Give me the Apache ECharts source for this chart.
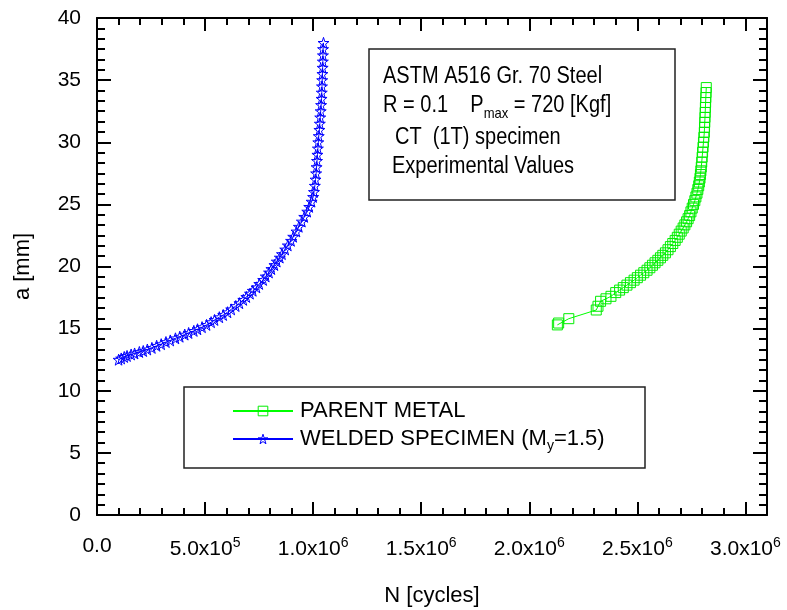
<!DOCTYPE html>
<html>
<head>
<meta charset="utf-8">
<script src="https://cdn.jsdelivr.net/npm/echarts@6/dist/echarts.min.js"></script>
<style>html,body{margin:0;padding:0;background:#fff}#c{width:787px;height:610px}</style>
</head>
<body>
<div id="c"></div>
<script>
// ---- data ----
const parentN = [2130000,2136000,2183000,2310000,2318000,2330000,2355000,2378000,2400000,2418000,2435000,2452000,2468000,2485000,2500000,2515000,2530000,2545000,2558000,2570000,2582000,2595000,2607000,2618000,2630000,2642000,2653000,2664000,2675000,2685000,2694000,2703000,2712000,2720000,2728000,2735000,2742000,2748000,2754000,2760000,2766000,2771000,2776000,2780000,2784000,2787000,2790000,2792000,2794000,2796000,2798000,2800000,2802000,2804000,2806000,2808000,2810000,2811000,2812000,2813000,2814000,2815000,2816000,2817000,2818000,2819000];
const parentA = [15.3,15.45,15.8,16.5,16.8,17.2,17.4,17.6,17.9,18.1,18.3,18.5,18.7,18.9,19.1,19.3,19.5,19.7,19.9,20.1,20.3,20.5,20.7,20.9,21.1,21.35,21.6,21.85,22.1,22.35,22.6,22.85,23.1,23.35,23.6,23.85,24.1,24.4,24.7,25.0,25.3,25.6,25.9,26.2,26.5,26.8,27.1,27.4,27.7,28.0,28.4,28.8,29.2,29.6,30.0,30.4,30.8,31.2,31.6,32.0,32.4,32.8,33.2,33.6,34.0,34.4];

const weldN = [100000,112000,126000,139000,158000,174000,196000,214000,233000,254000,276000,297000,319000,339000,363000,383000,406000,424000,448000,465000,486000,507000,528000,544000,566000,584000,604000,621000,642000,659000,677000,691000,708000,721000,738000,751000,769000,781000,796000,807000,821000,832000,846000,856000,871000,883000,898000,908000,923000,934000,948000,959000,973000,982000,993000,1000000,1004000,1008000,1011000,1014000,1016000,1018000,1020000,1022000,1024000,1026000,1029000,1031000,1033000,1035000,1037000,1039000,1040000,1041000,1042000,1043000,1044000,1045000,1045500,1046000,1048000];
const weldA = [12.5,12.6,12.72,12.8,12.92,13.0,13.12,13.2,13.32,13.45,13.62,13.75,13.92,14.05,14.22,14.35,14.52,14.65,14.82,14.95,15.12,15.3,15.52,15.7,15.92,16.1,16.32,16.55,16.82,17.05,17.32,17.55,17.82,18.05,18.32,18.6,18.92,19.2,19.52,19.8,20.12,20.4,20.72,21.0,21.37,21.7,22.07,22.4,22.82,23.2,23.62,24.0,24.42,24.8,25.22,25.6,26.0,26.5,27.0,27.5,28.0,28.5,29.0,29.5,30.0,30.5,31.0,31.5,32.0,32.5,33.0,33.5,34.0,34.5,35.0,35.5,36.0,36.5,37.0,37.5,38.0];

const seriesNames = ['PARENT METAL', 'WELDED SPECIMEN (My=1.5)'];
const legendLabels = ['PARENT METAL', 'WELDED SPECIMEN (M{sub|y}=1.5)'];
const xTicks = [0, 500000, 1000000, 1500000, 2000000, 2500000, 3000000];
const xTickLabels = ['0.0', '5.0x10{sup|5}', '1.0x10{sup|6}', '1.5x10{sup|6}', '2.0x10{sup|6}', '2.5x10{sup|6}', '3.0x10{sup|6}'];
const annotationLines = [
  'ASTM A516 Gr. 70 Steel',
  'R = 0.1    P{sub|max} = 720 [Kgf]',
  'CT  (1T) specimen',
  'Experimental Values'
];

const FONT = 'Liberation Sans';
const starPath = 'path://M50,2 L61,36 L97,36 L68,57 L79,92 L50,71 L21,92 L32,57 L3,36 L39,36 Z';

function zip(a, b) { return a.map((v, i) => [v, b[i]]); }

const chart = echarts.init(document.getElementById('c'), null, {renderer: 'canvas'});

const axisLineStyle = {color: '#000', width: 2};
function majorX(pos, showLabel) {
  return {
    type: 'value', position: pos, min: 0, max: 3100000, interval: 500000,
    axisLine: {show: true, onZero: false, lineStyle: axisLineStyle},
    axisTick: {show: true, inside: true, length: 13, lineStyle: {color: '#000', width: 2}},
    splitLine: {show: false},
    axisLabel: showLabel ? {
      show: true, margin: 21, showMaxLabel: false,
      fontFamily: FONT, fontSize: 21, color: '#000',
      formatter: v => { const i = xTicks.indexOf(v); return i >= 0 ? xTickLabels[i] : ''; },
      rich: {sup: {fontFamily: FONT, fontSize: 14, color: '#000', padding: [0, 0, 12, 0]}}
    } : {show: false},
    name: showLabel ? 'N [cycles]' : '', nameLocation: 'middle', nameGap: 70,
    nameTextStyle: {fontFamily: FONT, fontSize: 22, color: '#000'}
  };
}
function minorX(pos) {
  return {
    type: 'value', position: pos, min: 0, max: 3100000, interval: 100000,
    axisLine: {show: false, onZero: false},
    axisTick: {show: true, inside: true, length: 7, lineStyle: {color: '#000', width: 2}},
    splitLine: {show: false}, axisLabel: {show: false}
  };
}
function yAx(pos, showLabel) {
  return {
    type: 'value', position: pos, min: 0, max: 40, interval: 5,
    axisLine: {show: true, onZero: false, lineStyle: axisLineStyle},
    axisTick: {show: true, inside: true, length: 14, lineStyle: {color: '#000', width: 2}},
    minorTick: {show: true, splitNumber: 6, length: 8, lineStyle: {color: '#000', width: 2}},
    splitLine: {show: false},
    axisLabel: showLabel ? {show: true, margin: 16, fontFamily: FONT, fontSize: 21, color: '#000'} : {show: false},
    name: showLabel ? 'a [mm]' : '', nameLocation: 'middle', nameGap: 63, nameRotate: 90,
    nameTextStyle: {fontFamily: FONT, fontSize: 22, color: '#000'}
  };
}

const legendCommon = {
  orient: 'vertical', itemWidth: 60, itemHeight: 12, padding: 0,
  itemStyle: {color: 'rgba(0,0,0,0)', borderWidth: 1},
  textStyle: {fontFamily: FONT, fontSize: 22, color: '#000', padding: [0, 0, 0, 2],
    rich: {sub: {fontFamily: FONT, fontSize: 14, color: '#000', padding: [14, 0, 0, 0]}}},
  formatter: name => legendLabels[seriesNames.indexOf(name)]
};

const option = {
  animation: false,
  backgroundColor: '#fff',
  grid: {left: 97, top: 18, right: 20, bottom: 95, containLabel: false, outerBoundsMode: 'none'},
  xAxis: [majorX('bottom', true), majorX('top', false), minorX('bottom'), minorX('top')],
  yAxis: [yAx('left', true), yAx('right', false)],
  legend: [
    Object.assign({}, legendCommon, {data: [seriesNames[0]], left: 232, top: 400}),
    Object.assign({}, legendCommon, {data: [seriesNames[1]], left: 232, top: 428})
  ],
  series: [
    {
      name: seriesNames[0], type: 'line', data: zip(parentN, parentA),
      xAxisIndex: 0, yAxisIndex: 0,
      symbol: 'rect', symbolSize: 10, showAllSymbol: true,
      lineStyle: {color: '#00ff00', width: 1},
      itemStyle: {color: 'rgba(0,0,0,0)', borderColor: '#00ee00', borderWidth: 1}
    },
    {
      name: seriesNames[1], type: 'line', data: zip(weldN, weldA),
      xAxisIndex: 0, yAxisIndex: 0,
      symbol: starPath, symbolSize: 11, showAllSymbol: true,
      lineStyle: {color: '#0000ff', width: 1},
      itemStyle: {color: 'rgba(0,0,0,0)', borderColor: '#0000ff', borderWidth: 1}
    }
  ],
  graphic: [
    {type: 'rect', shape: {x: 184, y: 387, width: 461, height: 81}, style: {fill: 'none', stroke: '#222', lineWidth: 1.5}, z: 10},
    {type: 'rect', shape: {x: 369, y: 49, width: 306, height: 151}, style: {fill: 'none', stroke: '#222', lineWidth: 1.5}, z: 10},
    {type: 'text', x: 383, y: 77, scaleX: 0.87, z: 11, style: {text: annotationLines[0], fontFamily: FONT, fontSize: 23, fill: '#000', verticalAlign: 'middle'}},
    {type: 'text', x: 383, y: 106, scaleX: 0.87, z: 11, style: {text: annotationLines[1], fontFamily: FONT, fontSize: 23, fill: '#000', verticalAlign: 'middle',
      rich: {sub: {fontFamily: FONT, fontSize: 15, fill: '#000', padding: [16, 0, 0, 0]}}}},
    {type: 'text', x: 395, y: 138, scaleX: 0.87, z: 11, style: {text: annotationLines[2], fontFamily: FONT, fontSize: 23, fill: '#000', verticalAlign: 'middle'}},
    {type: 'text', x: 392, y: 167, scaleX: 0.87, z: 11, style: {text: annotationLines[3], fontFamily: FONT, fontSize: 23, fill: '#000', verticalAlign: 'middle'}}
  ]
};
chart.setOption(option);
</script>
</body>
</html>
